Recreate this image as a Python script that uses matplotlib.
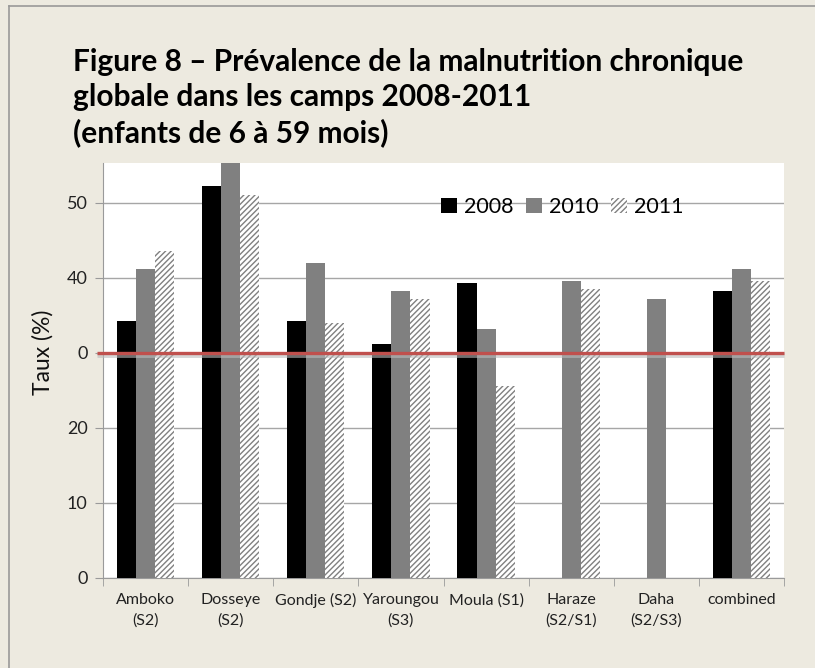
import matplotlib.pyplot as plt
import numpy as np
from matplotlib.lines import Line2D

# data
camps = ['Amboko\n(S2)', 'Dosseye\n(S2)', 'Gondje (S2)', 'Yaroungou\n(S3)',
         'Moula (S1)', 'Haraze\n(S2/S1)', 'Daha\n(S2/S3)', 'combined']
v2008 = [34.3, 52.3, 34.3, 31.2, 39.3, 0, 0, 38.3]
v2010 = [41.2, 56.5, 42.0, 38.3, 33.2, 39.6, 37.2, 41.2]
v2011 = [43.6, 51.1, 34.0, 37.2, 25.6, 38.5, 0, 39.6]
seuil = 30

bg = '#EDEAE0'
W, H = 815, 668
fig = plt.figure(figsize=(W / 100, H / 100), dpi=100, facecolor=bg)
ax = fig.add_axes([103 / W, 1 - 578 / H, (784 - 103) / W, (578 - 163) / H])
ax.set_facecolor('white')

x = np.arange(len(camps))
bw = 0.224
plt.rcParams['hatch.linewidth'] = 1.0
ax.bar(x - bw, v2008, bw, color='black', zorder=3, label='2008')
ax.bar(x, v2010, bw, color='#808080', zorder=3, label='2010')
ax.bar(x + bw, v2011, bw, color='white', edgecolor='#808080', hatch='//////',
       linewidth=0, zorder=3, label='2011')

# red threshold line with a soft shadow
ax.plot([-0.57, 7.5], [seuil - 0.35, seuil - 0.35], color='#bbbbbb', lw=3.5,
        alpha=0.6, zorder=4, clip_on=False, solid_capstyle='butt')
ax.plot([-0.57, 7.5], [seuil, seuil], color='#C0504D', lw=2.4, zorder=5,
        clip_on=False, solid_capstyle='butt')

ax.set_xlim(-0.5, 7.5)
ax.set_ylim(0, 55.3)
ax.set_yticks([0, 10, 20, 30, 40, 50])
ax.set_yticklabels(['0', '10', '20', '0', '40', '50'])
ax.yaxis.grid(True, color='#A6A6A6', lw=1.0, zorder=0)
ax.set_axisbelow(True)

ax.set_xticks(x)
ax.set_xticklabels(camps, fontsize=11.5, family='Lato', color='#222222',
                   linespacing=1.5)
ax.set_xticks(np.arange(-0.5, 8, 1), minor=True)
ax.tick_params(axis='x', which='major', length=0, pad=11)
ax.tick_params(axis='x', which='minor', length=6, color='#9a9a9a')
ax.tick_params(axis='y', length=6, color='#9a9a9a', labelsize=13, pad=5,
               labelcolor='#222222')
for lab in ax.get_yticklabels():
    lab.set_family('Lato')

for s in ['top', 'right']:
    ax.spines[s].set_visible(False)
for s in ['left', 'bottom']:
    ax.spines[s].set_color('#9a9a9a')

fig.text(43 / W, 1 - 352 / H, 'Taux (%)', rotation=90, ha='center',
         va='center', fontsize=16.5, family='Lato', color='#111111')

handles = [plt.Rectangle((0, 0), 1, 1, fc='black'),
           plt.Rectangle((0, 0), 1, 1, fc='#808080'),
           plt.Rectangle((0, 0), 1, 1, fc='white', ec='#808080', hatch='//////', lw=0)]
leg = ax.legend(handles, ['2008', '2010', '2011'], loc='center',
                bbox_to_anchor=((562 - 103) / (784 - 103), (578 - 207) / (578 - 163)),
                ncol=3, frameon=False, handlelength=0.75,
                handleheight=0.75, handletextpad=0.3, columnspacing=0.6,
                prop={'family': 'Lato', 'size': 15.5})

fig.text(73 / W, 1 - 48 / H,
         'Figure 8 \u2013 Pr\u00e9valence de la malnutrition chronique\n'
         'globale dans les camps 2008-2011\n(enfants de 6 \u00e0 59 mois)',
         ha='left', va='top', fontsize=21.5, fontweight='bold', family='Lato',
         linespacing=1.3, color='black')

# frame edges of the original panel
fig.add_artist(Line2D([9 / W, 1], [1 - 6 / H, 1 - 6 / H], color='#999999', lw=1.2))
fig.add_artist(Line2D([9 / W, 9 / W], [0, 1 - 6 / H], color='#999999', lw=1.2))

fig.savefig('out.png', dpi=100, facecolor=bg)
